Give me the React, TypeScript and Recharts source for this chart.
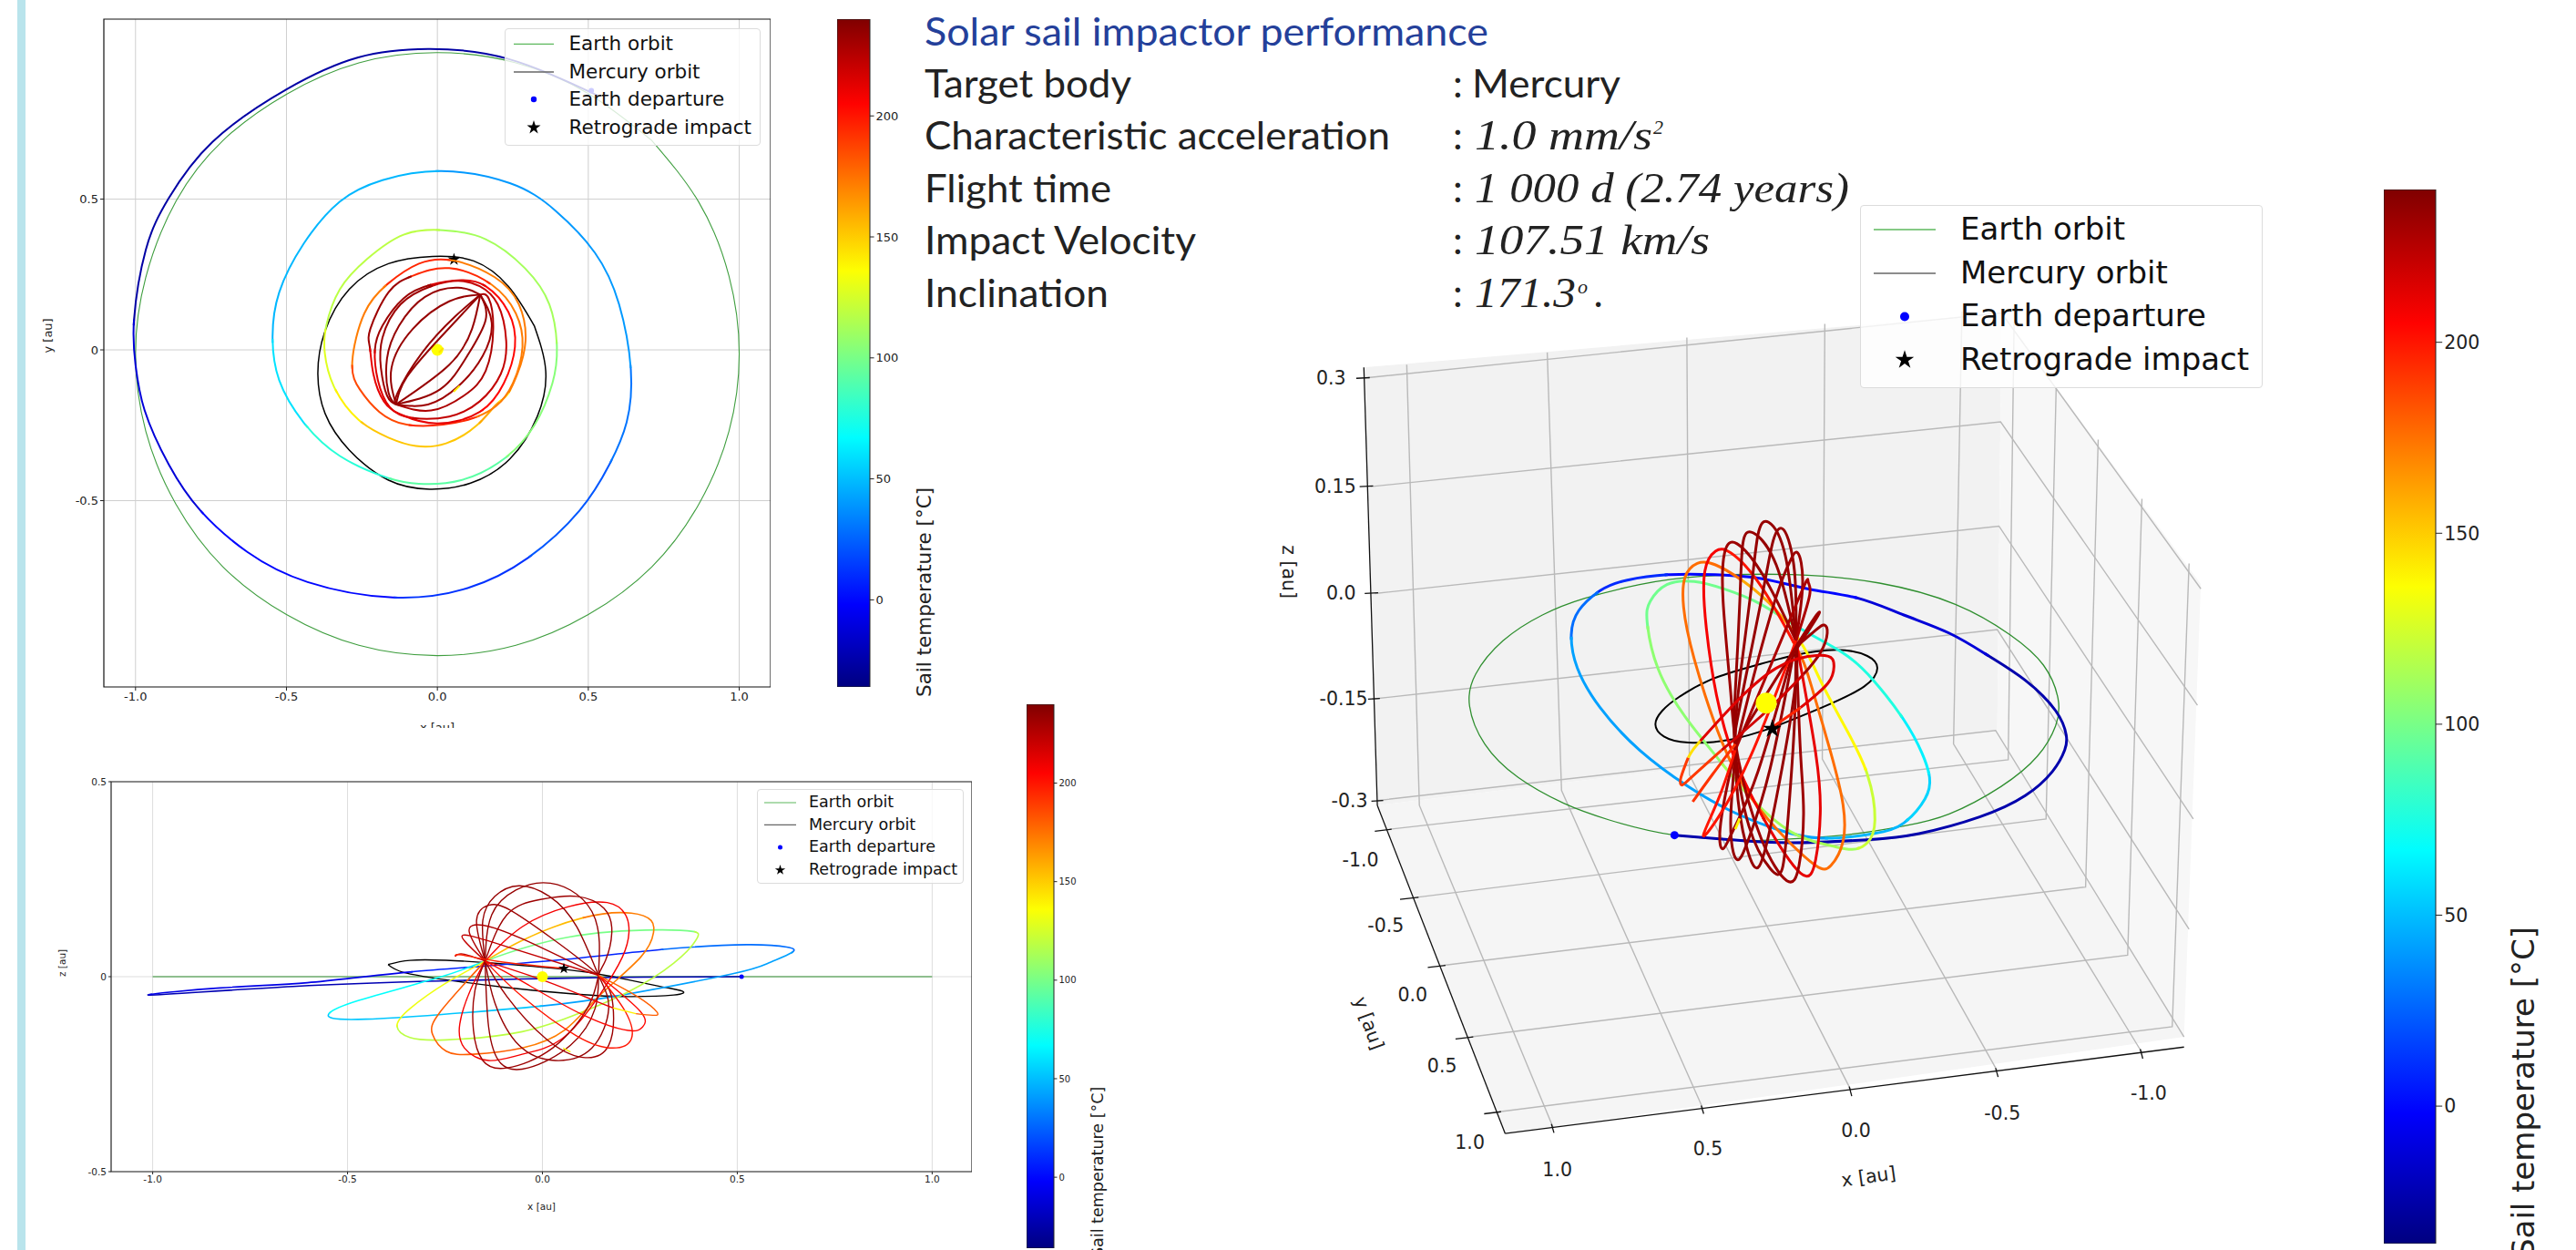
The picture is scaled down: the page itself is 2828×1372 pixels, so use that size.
import React from "react";
import { ScatterChart, Scatter, XAxis, YAxis, CartesianGrid, ReferenceArea, BarChart, Bar, Symbols } from "recharts";

type Pt = number[];
type Arc = [number, Pt[]];

const FONT = "'DejaVu Sans', sans-serif";
const xTicksAu = [-1, -0.5, 0, 0.5, 1];
const yTicksAu = [-0.5, 0, 0.5];
const barTicks = [0, 50, 100, 150, 200];
const barRange = [-36, 240];
const legendNames = ["Earth orbit", "Mercury orbit", "Earth departure", "Retrograde impact"];

/* ---------- top view, x / y in au ---------- */
const xyEarth: Pt[] = [[0.71, 0.695], [0.5, 0.85], [0.26, 0.952], [0, 0.986], [-0.26, 0.952], [-0.5, 0.848], [-0.71, 0.695], [-0.865, 0.495], [-0.966, 0.241], [-1, -0.012], [-0.966, -0.27], [-0.866, -0.512], [-0.71, -0.72], [-0.5, -0.878], [-0.26, -0.98], [0, -1.014], [0.26, -0.98], [0.5, -0.878], [0.71, -0.72], [0.866, -0.512], [0.966, -0.27], [1, -0.012], [0.966, 0.245], [0.866, 0.49], [0.71, 0.695]];
const xyMercury: Pt[] = [[0.321, 0.08], [0.359, -0.07], [0.331, -0.221], [0.24, -0.362], [0.11, -0.442], [-0.026, -0.462], [-0.162, -0.432], [-0.292, -0.332], [-0.372, -0.211], [-0.396, -0.08], [-0.373, 0.06], [-0.292, 0.201], [-0.162, 0.286], [-0.016, 0.31], [0.12, 0.295], [0.235, 0.211], [0.321, 0.08]];
const xyDeparture: Pt[] = [[0.51, 0.86]];
const xyImpact: Pt[] = [[0.055, 0.3]];
const xyOuter: Arc[] = [
  [-26, [[0.533, 0.843], [0.232, 0.966], [-0.031, 0.998], [-0.262, 0.97], [-0.5, 0.864], [-0.745, 0.69], [-0.89, 0.503], [-0.966, 0.332], [-1.005, 0.1]]],
  [-12, [[-1.005, 0.1], [-1.0, -0.05], [-0.97, -0.2], [-0.89, -0.38], [-0.785, -0.533]]],
  [0, [[-0.785, -0.533], [-0.63, -0.67], [-0.43, -0.77], [-0.148, -0.821]]],
  [12, [[-0.148, -0.821], [0.1, -0.79], [0.3, -0.69]]],
  [22, [[0.3, -0.69], [0.471, -0.533], [0.57, -0.38]]],
  [30, [[0.57, -0.38], [0.627, -0.24], [0.641, -0.066]]],
  [40, [[0.641, -0.066], [0.602, 0.151], [0.522, 0.322], [0.391, 0.462], [0.24, 0.553], [0.014, 0.593]]],
  [48, [[0.014, 0.593], [-0.182, 0.563], [-0.323, 0.492], [-0.443, 0.352], [-0.524, 0.191], [-0.546, 0.045]]],
  [60, [[-0.546, 0.045], [-0.524, -0.101], [-0.443, -0.241]]],
  [78, [[-0.443, -0.241], [-0.323, -0.352], [-0.172, -0.422]]],
  [92, [[-0.172, -0.422], [-0.061, -0.444], [0.079, -0.432], [0.22, -0.362]]],
  [104, [[0.22, -0.362], [0.321, -0.251], [0.381, -0.111], [0.396, 0.01]]],
  [112, [[0.396, 0.01], [0.371, 0.151], [0.29, 0.271], [0.16, 0.367], [0.019, 0.397]]],
  [118, [[0.019, 0.397], [-0.112, 0.382], [-0.232, 0.302], [-0.323, 0.201], [-0.368, 0.08]]],
  [128, [[-0.368, 0.08], [-0.373, -0.01], [-0.343, -0.121]]],
  [140, [[-0.343, -0.121], [-0.262, -0.231]]],
  [152, [[-0.262, -0.231], [-0.162, -0.291], [-0.071, -0.319], [0.029, -0.31], [0.13, -0.251]]],
  [160, [[0.13, -0.251], [0.195, -0.181]]],
  [140, [[0.195, -0.181], [0.23, -0.151]]],
  [172, [[0.23, -0.151], [0.265, -0.08], [0.292, 0.03], [0.27, 0.151], [0.19, 0.241], [0.054, 0.296]]],
  [195, [[0.054, 0.296], [-0.061, 0.286], [-0.162, 0.221]]],
  [172, [[-0.162, 0.221], [-0.242, 0.121], [-0.282, -0.04]]],
  [186, [[-0.282, -0.04], [-0.257, -0.131], [-0.192, -0.206], [-0.102, -0.248]]],
  [195, [[-0.102, -0.248], [0.019, -0.248], [0.12, -0.226]]],
  [172, [[0.12, -0.226], [0.195, -0.186], [0.25, -0.111], [0.282, 0.01], [0.26, 0.121], [0.18, 0.216]]],
  [195, [[0.18, 0.216], [0.039, 0.271], [-0.081, 0.246]]],
  [232, [[-0.081, 0.246], [-0.162, 0.191], [-0.222, 0.07], [-0.224, 0.01]]],
  [212, [[-0.224, 0.01], [-0.212, -0.08], [-0.177, -0.171], [-0.117, -0.216], [-0.001, -0.244], [0.14, -0.206]]],
  [205, [[0.14, -0.206], [0.22, -0.111], [0.257, 0.01], [0.235, 0.126], [0.16, 0.211]]],
  [214, [[0.16, 0.211], [0.079, 0.231], [-0.021, 0.216]]],
  [232, [[-0.021, 0.216], [-0.112, 0.171], [-0.182, 0.08], [-0.207, 0]]],
  [214, [[-0.207, 0], [-0.197, -0.101], [-0.157, -0.191], [-0.081, -0.226]]],
  [222, [[-0.081, -0.226], [0.039, -0.221], [0.14, -0.171], [0.21, -0.08], [0.228, 0.03], [0.2, 0.151], [0.14, 0.211], [0.069, 0.229], [-0.021, 0.211]]],
  [232, [[-0.021, 0.211], [-0.122, 0.151], [-0.182, 0.04], [-0.187, -0.06], [-0.167, -0.151], [-0.137, -0.181]]],
];
const xyFan: Arc[] = [
  [228, [[-0.137, -0.181], [-0.021, -0.201], [0.089, -0.151], [0.16, -0.07], [0.185, 0.07], [0.17, 0.171], [0.142, 0.183]]],
  [234, [[0.142, 0.183], [0.069, 0.206], [-0.041, 0.176], [-0.127, 0.08], [-0.167, -0.03], [-0.162, -0.141], [-0.137, -0.181]]],
  [232, [[-0.137, -0.181], [-0.031, -0.181], [0.069, -0.121], [0.15, -0.02], [0.18, 0.09], [0.142, 0.183]]],
  [234, [[0.142, 0.183], [0.039, 0.161], [-0.081, 0.07], [-0.152, -0.06], [-0.137, -0.181]]],
  [234, [[-0.137, -0.181], [0.009, -0.131], [0.099, -0.02], [0.16, 0.1], [0.142, 0.183]]],
  [234, [[0.142, 0.183], [0.059, 0.111], [-0.051, -0.01], [-0.131, -0.141], [-0.137, -0.181]]],
  [234, [[-0.137, -0.181], [0.039, -0.05], [0.115, 0.07], [0.142, 0.183]]],
  [234, [[0.142, 0.183], [0.009, 0.04], [-0.101, -0.09], [-0.137, -0.181]]],
  [140, [[0.054, -0.139], [0.074, -0.119]]],
  [145, [[0.005, -0.009], [0.02, 0.006]]],
];

/* ---------- side view, x / z in au ---------- */
const xzEarth: Pt[] = [[-1, 0], [1, 0]];
const xzMercury: Pt[] = [[-0.396, 0.031], [-0.34, 0.042], [-0.247, 0.042], [-0.13, 0.035], [0.055, 0.019], [0.181, 0], [0.298, -0.024], [0.359, -0.037], [0.337, -0.047], [0.22, -0.051], [0.088, -0.045], [-0.091, -0.028], [-0.247, -0.008], [-0.356, 0.011], [-0.396, 0.031]];
const xzDeparture: Pt[] = [[0.511, 0]];
const xzImpact: Pt[] = [[0.055, 0.021]];
const xzOuter: Arc[] = [
  [-22, [[0.511, 0], [0.26, -0.001], [0, -0.005], [-0.265, -0.011], [-0.64, -0.025], [-1.007, -0.047]]],
  [-8, [[-1.007, -0.047], [-0.828, -0.029], [-0.603, -0.0155], [-0.34, 0.012]]],
  [8, [[-0.34, 0.012], [0, 0.039], [0.299, 0.069]]],
  [28, [[0.299, 0.069], [0.524, 0.082], [0.627, 0.076], [0.64, 0.062]]],
  [42, [[0.64, 0.062], [0.58, 0.035], [0.486, 0.007], [0.205, -0.047], [0, -0.075]]],
  [52, [[0, -0.075], [-0.265, -0.0975], [-0.453, -0.109], [-0.537, -0.107], [-0.546, -0.093]]],
  [68, [[-0.546, -0.093], [-0.471, -0.061], [-0.265, -0.002], [-0.147, 0.04]]],
  [100, [[-0.147, 0.04], [0.065, 0.101], [0.298, 0.12], [0.386, 0.116]]],
  [118, [[0.386, 0.116], [0.397, 0.099], [0.337, 0.035], [0.22, -0.039], [0.104, -0.09], [-0.052, -0.141], [-0.247, -0.162], [-0.34, -0.156], [-0.373, -0.127]]],
  [132, [[-0.373, -0.127], [-0.34, -0.082], [-0.247, -0.016], [-0.147, 0.04]]],
  [155, [[-0.147, 0.04], [-0.052, 0.093], [0.104, 0.151]]],
  [172, [[0.104, 0.151], [0.228, 0.163], [0.279, 0.144], [0.285, 0.113], [0.252, 0.05], [0.144, -0.051], [0.057, -0.137], [-0.052, -0.183]]],
  [180, [[-0.052, -0.183], [-0.177, -0.199], [-0.247, -0.191], [-0.282, -0.148], [-0.262, -0.09], [-0.147, 0.04]]],
];
const xzFan: Arc[] = [
  [208, [[-0.147, 0.04], [-0.052, 0.128], [0.065, 0.179], [0.166, 0.19], [0.213, 0.159], [0.222, 0.113], [0.205, 0.05], [0.144, -0.051], [0.049, -0.16], [-0.052, -0.199], [-0.138, -0.215], [-0.2, -0.183], [-0.212, -0.121], [-0.185, -0.035], [-0.147, 0.04]]],
  [232, [[-0.147, 0.04], [-0.091, 0.159], [-0.005, 0.198], [0.088, 0.206], [0.158, 0.175], [0.178, 0.113], [0.162, 0.042], [0.144, 0.0035], [0.119, -0.074], [0.026, -0.183], [-0.091, -0.234], [-0.153, -0.215], [-0.177, -0.137], [-0.173, -0.035], [-0.147, 0.04]]],
  [234, [[-0.147, 0.04], [-0.13, 0.159], [-0.068, 0.222], [0.002, 0.241], [0.072, 0.222], [0.127, 0.167], [0.146, 0.089], [0.144, 0.0035], [0.135, -0.082], [0.072, -0.176], [-0.037, -0.234], [-0.107, -0.222], [-0.138, -0.129], [-0.147, 0.04]]],
  [234, [[-0.147, 0.04], [-0.153, 0.144], [-0.122, 0.206], [-0.06, 0.233], [0.018, 0.206], [0.088, 0.128], [0.144, 0.0035], [0.17, -0.082], [0.127, -0.183], [0.033, -0.215], [-0.06, -0.176], [-0.122, -0.067], [-0.147, 0.04]]],
  [232, [[-0.147, 0.04], [-0.169, 0.144], [-0.138, 0.183], [-0.083, 0.171], [0.026, 0.097], [0.144, 0.0035], [0.181, -0.074], [0.17, -0.176], [0.104, -0.207], [0.01, -0.16], [-0.091, -0.051], [-0.147, 0.04]]],
  [228, [[-0.147, 0.04], [-0.188, 0.116], [-0.153, 0.132], [-0.052, 0.097], [0.144, 0.0035]]],
  [200, [[0.144, 0.0035], [0.213, -0.09], [0.228, -0.16], [0.181, -0.183], [0.088, -0.152], [-0.052, -0.051], [-0.147, 0.04]]],
  [222, [[-0.147, 0.04], [-0.204, 0.097], [-0.185, 0.105], [-0.091, 0.077], [0.144, 0.0035]]],
  [204, [[0.144, 0.0035], [0.252, -0.09], [0.257, -0.129], [0.22, -0.138], [0.104, -0.098], [-0.052, -0.012], [-0.147, 0.04]]],
  [212, [[-0.147, 0.04], [0.01, -0.012], [0.13, -0.06], [0.181, -0.08]]],
  [140, [[0.181, -0.08], [0.24, -0.095]]],
  [180, [[0.24, -0.095], [0.283, -0.099], [0.294, -0.091], [0.244, -0.051], [0.144, 0.0035]]],
  [225, [[-0.147, 0.04], [-0.204, 0.058], [-0.224, 0.052]]],
  [196, [[-0.224, 0.052], [-0.208, 0.056], [-0.114, 0.039], [0.055, 0.021]]],
  [140, [[0.053, -0.183], [0.072, -0.193]]],
];

/* ---------- perspective view, projected picture coordinates ---------- */
const paneBack: Pt[] = [[127, 272], [885, 192], [880, 805], [143, 915], [127, 272]];
const paneRight: Pt[] = [[885, 192], [1122, 590], [1102, 1255], [880, 805], [885, 192]];
const paneFloor: Pt[] = [[143, 915], [880, 805], [1102, 1255], [295, 1397], [143, 915]];
const gridLines3d: Pt[][] = [
  [[132, 287], [885, 192], [1122, 597]],
  [[135, 447], [884, 352], [1118, 768]],
  [[140, 604], [882, 505], [1113, 935]],
  [[137, 759], [880, 657], [1108, 1097]],
  [[143, 908], [878, 805], [1102, 1255]],
  [[178, 268], [193, 915], [352, 1388]],
  [[345, 250], [362, 893], [530, 1360]],
  [[511, 228], [514, 870], [706, 1333]],
  [[675, 208], [672, 847], [880, 1305]],
  [[838, 190], [828, 825], [1052, 1278]],
  [[158, 950], [893, 848], [900, 205]],
  [[190, 1050], [938, 935], [950, 303]],
  [[222, 1150], [985, 1035], [1000, 378]],
  [[255, 1255], [1035, 1135], [1052, 465]],
  [[288, 1365], [1088, 1240], [1108, 560]],
];
const axisLines3d: Pt[][] = [
  [[127, 272], [143, 915]],
  [[143, 915], [295, 1397]],
  [[295, 1397], [1102, 1270]],
  [[118, 288], [134, 287]], [[122, 447], [138, 446]], [[128, 604], [144, 603]], [[132, 759], [146, 758]], [[136, 909], [150, 908]],
  [[140, 953], [160, 950]], [[170, 1053], [192, 1050]], [[203, 1153], [224, 1150]], [[236, 1258], [257, 1255]], [[270, 1368], [290, 1365]],
  [[350, 1383], [353, 1396]], [[528, 1356], [531, 1368]], [[704, 1328], [707, 1342]], [[878, 1301], [881, 1314]], [[1050, 1273], [1053, 1287]],
];
const tickText3d = [
  { x: 88, y: 288, label: "0.3" }, { x: 93, y: 447, label: "0.15" }, { x: 100, y: 604, label: "0.0" }, { x: 103, y: 759, label: "-0.15" }, { x: 110, y: 909, label: "-0.3" },
  { x: 123, y: 996, label: "-1.0" }, { x: 153, y: 1092, label: "-0.5" }, { x: 185, y: 1194, label: "0.0" }, { x: 220, y: 1298, label: "0.5" }, { x: 253, y: 1410, label: "1.0" },
  { x: 357, y: 1450, label: "1.0" }, { x: 536, y: 1420, label: "0.5" }, { x: 712, y: 1393, label: "0.0" }, { x: 886, y: 1367, label: "-0.5" }, { x: 1060, y: 1338, label: "-1.0" },
];
const axisText3d = [
  { x: 38, y: 572, label: "z [au]", angle: 90 },
  { x: 133, y: 1235, label: "y [au]", angle: 70 },
  { x: 727, y: 1460, label: "x [au]", angle: -8 },
];
const nearEarth: Pt[] = [[450, 1088], [175, 1070], [-40, 1020], [-190, 965], [-340, 880], [-450, 770], [-500, 645], [-480, 540], [-390, 430], [-260, 345], [-120, 290], [60, 245], [260, 218], [560, 212], [850, 240], [1100, 310], [1280, 410], [1390, 510], [1438, 620], [1430, 710], [1370, 810], [1250, 910], [1080, 1000], [930, 1040], [730, 1070], [450, 1088]];
const nearDeparture: Pt[] = [[175, 1070]];
const nearMercury: Pt[] = [[500, 715], [360, 755], [220, 765], [140, 745], [112, 705], [135, 660], [190, 615], [290, 560], [410, 520], [560, 480], [710, 460], [810, 480], [843, 520], [800, 580], [660, 650], [500, 715]];
const nearSun: Pt[] = [[477, 635]];
const nearImpact: Pt[] = [[497, 720]];
const nearLoops: Arc[] = [
  [-24, [[175, 1070], [360, 1085], [560, 1095], [810, 1085], [980, 1065], [1180, 1010], [1330, 940], [1420, 860], [1460, 790], [1465, 740], [1430, 660], [1330, 560], [1210, 480]]],
  [-12, [[1210, 480], [1080, 405], [930, 345], [780, 290]]],
  [0, [[780, 290], [620, 260], [460, 225], [310, 212], [160, 212]]],
  [10, [[160, 212], [20, 230], [-70, 265]]],
  [28, [[-70, 265], [-140, 330], [-165, 410]]],
  [42, [[-165, 410], [-145, 520], [-70, 650], [60, 790], [220, 910], [360, 990], [510, 1050], [660, 1080]]],
  [48, [[660, 1080], [830, 1065], [930, 1030]]],
  [56, [[930, 1030], [1000, 950], [1015, 880]]],
  [64, [[1015, 880], [990, 800], [930, 690]]],
  [76, [[930, 690], [830, 560], [730, 470], [590, 390]]],
  [98, [[590, 390], [460, 310], [340, 260], [240, 235], [150, 245], [95, 300], [85, 370]]],
  [106, [[85, 370], [120, 520], [210, 680], [320, 820]]],
  [112, [[320, 820], [420, 940], [560, 1060], [690, 1105], [760, 1117]]],
  [122, [[760, 1117], [810, 1095], [835, 1020], [810, 870]]],
  [138, [[810, 870], [740, 720], [660, 570], [600, 450]]],
  [160, [[600, 450], [510, 330], [410, 240]]],
  [176, [[410, 240], [310, 180], [250, 175], [210, 220], [205, 320], [240, 490], [330, 760], [430, 950], [540, 1080], [640, 1170], [690, 1170], [730, 1090], [730, 970], [690, 800], [620, 560], [575, 450]]],
  [200, [[575, 450], [460, 250], [360, 140]]],
  [208, [[360, 140], [310, 135], [275, 200], [280, 390], [340, 720], [460, 1000]]],
  [212, [[460, 1000], [590, 1195], [640, 1150], [655, 1000], [640, 800], [575, 430]]],
];
const nearFan: Arc[] = [
  [232, [[575, 430], [470, 220], [380, 110], [340, 140], [335, 300], [360, 600], [385, 820], [460, 1080], [545, 1220], [585, 1170], [600, 1000], [590, 800], [575, 430]]],
  [234, [[575, 430], [510, 180], [435, 75], [400, 110], [390, 300], [375, 600], [375, 790], [420, 1040], [490, 1180], [530, 1180], [550, 1000], [570, 700], [575, 430]]],
  [234, [[575, 430], [540, 150], [485, 40], [450, 80], [425, 280], [385, 600], [375, 790], [390, 1000], [435, 1170], [470, 1130], [510, 950], [570, 600], [575, 430]]],
  [234, [[575, 430], [570, 200], [535, 65], [500, 100], [460, 300], [380, 700], [375, 790], [360, 1020], [380, 1150], [420, 1080], [490, 850], [575, 430]]],
  [232, [[575, 430], [597, 240], [580, 140], [550, 180], [490, 350], [375, 790], [325, 1050], [335, 1115], [370, 1050], [450, 860], [575, 430]]],
  [228, [[575, 430], [620, 280], [615, 235], [580, 300], [375, 790]]],
  [200, [[375, 790], [320, 950], [270, 1070], [320, 1010], [430, 800], [575, 430]]],
  [232, [[575, 460], [640, 360], [652, 335], [600, 410], [375, 770]]],
  [192, [[375, 770], [300, 870], [235, 960]]],
  [232, [[575, 450], [640, 395], [668, 378], [678, 405], [655, 470], [600, 540]]],
  [218, [[600, 540], [480, 660], [330, 790]]],
  [190, [[330, 790], [230, 880], [200, 905], [195, 885], [220, 815]]],
  [145, [[220, 815], [235, 790], [260, 760]]],
  [214, [[260, 760], [360, 650], [510, 520], [650, 478], [695, 490], [700, 515], [680, 570], [590, 650]]],
  [196, [[590, 650], [497, 715]]],
  [140, [[390, 1015], [375, 1050]]],
];

/* ---------- text ---------- */
const infoLabels = ["Target body", "Characteristic acceleration", "Flight time", "Impact Velocity", "Inclination"];
const infoLabelWidths = [227, 511, 205, 298, 202];
const infoValues = ["1.0 mm/s", "1 000 d (2.74 years)", "107.51 km/s", "171.3"];
const infoValueWidths = [195, 411, 258, 111];

/* jet colour map normalised on the colour bar's range */
const jet = (t: number) => {
  const v = (t - barRange[0]) / (barRange[1] - barRange[0]);
  const c = (a: number) => Math.round(255 * Math.max(0, Math.min(1, 1.5 - Math.abs(4 * v - a))));
  return `rgb(${c(3)},${c(2)},${c(1)})`;
};
const gradientTemps = [-36, -20, -2, 15, 32, 50, 67, 84, 102, 119, 136, 154, 171, 188, 205, 222, 240];

const toXY = (p: Pt[]) => p.map(([x, y]) => ({ x, y }));

const trace = (k: string, pts: Pt[], stroke: string, w: number, type = "natural", ax = "0", extra: any = {}) => (
  <Scatter
    key={k}
    data={toXY(pts)}
    xAxisId={ax}
    yAxisId={ax}
    isAnimationActive={false}
    legendType="none"
    line={{ stroke, strokeWidth: w, ...extra }}
    lineJointType={type as any}
    shape={() => <g />}
  />
);
const arcs = (k: string, list: Arc[], w: number, ax = "0") => list.map((a, i) => trace(`${k}${i}`, a[1], jet(a[0]), w, "natural", ax));

/* one spline through a whole run of arcs, revealed piece by piece in each arc's colour */
const joined = (k: string, list: Arc[], w: number, ax = "0") => {
  const pts: Pt[] = [];
  const ends: number[] = [];
  let len = 0;
  list.forEach((a) => {
    a[1].forEach((p) => {
      const q = pts[pts.length - 1];
      if (q && q[0] === p[0] && q[1] === p[1]) return;
      if (q) len += Math.hypot(p[0] - q[0], p[1] - q[1]);
      pts.push(p);
    });
    ends.push(len);
  });
  return list.map((a, i) => {
    const s = ((i ? ends[i - 1] : 0) / len) * 1000;
    const e = (ends[i] / len) * 1000;
    return trace(`${k}${i}`, pts, jet(a[0]), w, "natural", ax, {
      pathLength: 1000,
      strokeDasharray: `0 ${Math.max(0, s - 0.4).toFixed(2)} ${(e - s + 0.8).toFixed(2)} 2000`,
    });
  });
};

const dot = (k: string, pts: Pt[], fill: string, r: number, ax = "0") => (
  <Scatter key={k} data={toXY(pts)} xAxisId={ax} yAxisId={ax} isAnimationActive={false} legendType="none"
    shape={(p: any) => <circle cx={p.cx} cy={p.cy} r={r} fill={fill} />} />
);
const star = (k: string, pts: Pt[], size: number, ax = "0") => (
  <Scatter key={k} data={toXY(pts)} xAxisId={ax} yAxisId={ax} isAnimationActive={false} legendType="none"
    shape={(p: any) => <Symbols cx={p.cx} cy={p.cy} type="star" size={size} fill="#000" />} />
);

function LegendBox({ left, top, width, height, rows, hx, hw, tx, font, lw, r, s }: any) {
  return (
    <div style={{ position: "absolute", left, top, width, height, background: "rgba(255,255,255,0.8)", border: "1.5px solid #dcdcdc", borderRadius: 4, boxSizing: "border-box" }}>
      {legendNames.map((n, i) => (
        <div key={n} style={{ position: "absolute", left: tx - left, top: rows[i] - top - font * 0.62, font: `${font}px ${FONT}`, lineHeight: `${font * 1.2}px`, whiteSpace: "nowrap", color: "#111" }}>{n}</div>
      ))}
      <svg style={{ position: "absolute", left: 0, top: 0 }} width={width} height={height}>
        <line x1={hx - left} x2={hx + hw - left} y1={rows[0] - top} y2={rows[0] - top} stroke="#5cb85c" strokeWidth={lw} />
        <line x1={hx - left} x2={hx + hw - left} y1={rows[1] - top} y2={rows[1] - top} stroke="#666" strokeWidth={lw} />
        <circle cx={hx + hw / 2 - left} cy={rows[2] - top} r={r} fill="#0000ff" />
        <g transform={`translate(${hx + hw / 2 - left},${rows[3] - top})`}>
          <Symbols type="star" size={s} fill="#000" cx={0} cy={0} />
        </g>
      </svg>
    </div>
  );
}

function ColorBar({ id, left, top, w, h, axisW, font }: any) {
  return (
    <div style={{ position: "absolute", left, top }}>
      <BarChart width={w + axisW} height={h} data={[{ n: "T", r: barRange }]} margin={{ top: 0, right: 0, bottom: 0, left: 0 }} barCategoryGap={0}>
        <defs>
          <linearGradient id={id} x1="0" y1="1" x2="0" y2="0">
            {gradientTemps.map((t) => (
              <stop key={t} offset={(t - barRange[0]) / (barRange[1] - barRange[0])} stopColor={jet(t)} />
            ))}
          </linearGradient>
        </defs>
        <XAxis dataKey="n" hide />
        <YAxis orientation="right" width={axisW} type="number" domain={barRange} ticks={barTicks} interval={0} axisLine={false}
          tickLine={{ stroke: "#222" }} tickSize={font * 0.35} tick={{ fontSize: font, fontFamily: FONT, fill: "#222" }} />
        <Bar dataKey="r" fill={`url(#${id})`} stroke="#222" strokeWidth={1} isAnimationActive={false} />
      </BarChart>
    </div>
  );
}

const tickStyle = (f: number) => ({ fontSize: f, fontFamily: FONT, fill: "#222" });
const xFmt = (v: number) => v.toFixed(1);

export default function App() {
  return (
    <div style={{ position: "absolute", left: 0, top: 0, width: 2828, height: 1372, overflow: "hidden", background: "#fff", fontFamily: FONT }}>
      <div style={{ position: "absolute", left: 19, top: 0, width: 9, height: 1372, background: "#b9e4ec" }} />

      {/* top view */}
      <div style={{ position: "absolute", left: 30, top: 0 }}>
        <ScatterChart width={816} height={799} margin={{ top: 21, right: 0, bottom: 0, left: 0 }}>
          <CartesianGrid stroke="#cfcfcf" verticalValues={xTicksAu} horizontalValues={yTicksAu} />
          <XAxis dataKey="x" type="number" domain={[-1.105, 1.104]} ticks={xTicksAu} interval={0} tickFormatter={xFmt} height={45} allowDataOverflow
            tick={tickStyle(13)} tickSize={4} tickLine={{ stroke: "#222" }} axisLine={false}
            label={{ value: "x [au]", position: "insideBottom", offset: -4, style: { fontSize: 13, fontFamily: FONT, fill: "#222" } }} />
          <YAxis dataKey="y" type="number" domain={[-1.118, 1.097]} ticks={yTicksAu} interval={0} width={84} allowDataOverflow
            tick={tickStyle(13)} tickSize={4} tickLine={{ stroke: "#222" }} axisLine={false}
            label={{ value: "y [au]", angle: -90, position: "insideLeft", offset: 22, style: { fontSize: 13, fontFamily: FONT, fill: "#222" } }} />
          {trace("e", xyEarth, "#3f9e3f", 1.1)}
          {trace("m", xyMercury, "#000", 1.5)}
          {star("imp", xyImpact, 60)}
          {joined("o", xyOuter, 2)}
          {dot("sun", [[0, 0]], "#ffff00", 6.5)}
          {arcs("f", xyFan, 2)}
          {dot("dep", xyDeparture, "#0000ff", 3)}
          <ReferenceArea x1={-1.105} x2={1.104} y1={-1.118} y2={1.097} fill="none" stroke="#111" strokeWidth={1.2} ifOverflow="visible" />
        </ScatterChart>
      </div>
      <LegendBox left={554} top={31} width={281} height={129} rows={[47.4, 78, 108, 139]} hx={563} hw={44} tx={623.5} font={21.5} lw={1.3} r={3.2} s={70} />
      <ColorBar id="jetA" left={919} top={21} w={36} h={733} axisW={50} font={13} />

      {/* side view */}
      <div style={{ position: "absolute", left: 60, top: 850 }}>
        <ScatterChart width={1007} height={496} margin={{ top: 8, right: 0, bottom: 0, left: 0 }}>
          <CartesianGrid stroke="#dddddd" verticalValues={xTicksAu} horizontalValues={yTicksAu} />
          <XAxis dataKey="x" type="number" domain={[-1.1066, 1.102]} ticks={xTicksAu} interval={0} tickFormatter={xFmt} height={60} allowDataOverflow
            tick={tickStyle(10.5)} tickSize={3} tickLine={{ stroke: "#222" }} axisLine={false}
            label={{ value: "x [au]", position: "insideBottom", offset: 18, style: { fontSize: 10.5, fontFamily: FONT, fill: "#222" } }} />
          <YAxis dataKey="y" type="number" domain={[-0.5, 0.5]} ticks={yTicksAu} interval={0} width={62} allowDataOverflow
            tick={tickStyle(10.5)} tickSize={3} tickLine={{ stroke: "#222" }} axisLine={false}
            label={{ value: "z [au]", angle: -90, position: "insideLeft", offset: 8, style: { fontSize: 10.5, fontFamily: FONT, fill: "#222" } }} />
          {trace("e", xzEarth, "#2f8f2f", 1, "linear")}
          {trace("m", xzMercury, "#000", 1.3)}
          {joined("o", xzOuter, 1.6)}
          {arcs("f", xzFan, 1.4)}
          {dot("sun", [[0, 0]], "#ffff00", 6)}
          {dot("dep", xzDeparture, "#0000ff", 2.5)}
          {star("imp", xzImpact, 45)}
          <ReferenceArea x1={-1.1066} x2={1.102} y1={-0.5} y2={0.5} fill="none" stroke="#222" strokeWidth={1.2} ifOverflow="visible" />
        </ScatterChart>
      </div>
      <LegendBox left={831} top={866} width={227} height={104} rows={[880, 904.4, 929, 954]} hx={838} hw={35} tx={887} font={17.5} lw={1.2} r={2.5} s={40} />
      <ColorBar id="jetB" left={1127} top={773} w={30} h={597} axisW={40} font={10} />

      {/* perspective view */}
      <div style={{ position: "absolute", left: 1380, top: 200 }}>
        <ScatterChart width={1448} height={1172} margin={{ top: 0, right: 0, bottom: 0, left: 0 }}>
          <XAxis xAxisId="w" dataKey="x" type="number" domain={[0, 1568]} hide allowDataOverflow />
          <YAxis yAxisId="w" dataKey="y" type="number" domain={[0, 1568]} reversed hide allowDataOverflow />
          <XAxis xAxisId="n" dataKey="x" type="number" domain={[-1200, 3144]} hide allowDataOverflow />
          <YAxis yAxisId="n" dataKey="y" type="number" domain={[-1080, 2436]} reversed hide allowDataOverflow />
          {trace("pb", paneBack, "none", 0, "linear", "w", { fill: "#f2f2f2" })}
          {trace("pr", paneRight, "none", 0, "linear", "w", { fill: "#f7f7f7" })}
          {trace("pf", paneFloor, "none", 0, "linear", "w", { fill: "#f5f5f5" })}
          {gridLines3d.map((g, i) => trace(`g${i}`, g, "#b9b9b9", 1.4, "linear", "w"))}
          {axisLines3d.map((g, i) => trace(`a${i}`, g, "#111", 1.3, "linear", "w"))}
          <Scatter data={tickText3d} xAxisId="w" yAxisId="w" isAnimationActive={false} legendType="none"
            shape={(p: any) => <text x={p.cx} y={p.cy} textAnchor="middle" dominantBaseline="central" fontSize={20.5} fontFamily={FONT} fill="#222">{p.payload.label}</text>} />
          <Scatter data={axisText3d} xAxisId="w" yAxisId="w" isAnimationActive={false} legendType="none"
            shape={(p: any) => <text transform={`translate(${p.cx},${p.cy}) rotate(${p.payload.angle})`} textAnchor="middle" dominantBaseline="central" fontSize={20.5} fontFamily={FONT} fill="#222">{p.payload.label}</text>} />
          {trace("e", nearEarth, "#2f8f2f", 1.3, "natural", "n")}
          {trace("m", nearMercury, "#000", 2, "natural", "n")}
          {joined("l", nearLoops, 3, "n")}
          {arcs("f", nearFan, 3, "n")}
          {dot("sun", nearSun, "#ffff00", 11.5, "n")}
          {dot("dep", nearDeparture, "#0000ff", 4.5, "n")}
          {star("imp", nearImpact, 130, "n")}
        </ScatterChart>
      </div>
      <LegendBox left={2042} top={225} width={442} height={201} rows={[251, 299, 346.5, 394]} hx={2056} hw={68} tx={2151} font={34} lw={1.6} r={5} s={130} />
      <ColorBar id="jetC" left={2617} top={207.5} w={57} h={1157} axisW={70} font={20.5} />

      {/* text block and colour bar titles */}
      <svg width={2828} height={1372} style={{ position: "absolute", left: 0, top: 0, pointerEvents: "none" }}>
        <text x={1015} y={50} fontFamily="Lato" fontSize={43} fill="#24409a" textLength={619} lengthAdjust="spacingAndGlyphs">Solar sail impactor performance</text>
        {infoLabels.map((t, i) => (
          <text key={t} x={1015} y={106.7 + i * 57.5} fontFamily="Lato" fontSize={43} fill="#222" textLength={infoLabelWidths[i]} lengthAdjust="spacingAndGlyphs">{t}</text>
        ))}
        {infoLabels.map((t, i) => (
          <text key={t} x={1595} y={106.7 + i * 57.5} fontFamily="Lato" fontSize={43} fill="#222">:</text>
        ))}
        <text x={1616} y={106.7} fontFamily="Lato" fontSize={43} fill="#222" textLength={163} lengthAdjust="spacingAndGlyphs">Mercury</text>
        {infoValues.map((t, i) => (
          <text key={t} x={1619} y={164 + i * 57.5} fontFamily="'Liberation Serif'" fontStyle="italic" fontSize={46} fill="#222" textLength={infoValueWidths[i]} lengthAdjust="spacingAndGlyphs">{t}</text>
        ))}
        <text x={1815} y={147} fontFamily="'Liberation Serif'" fontStyle="italic" fontSize={22} fill="#222">2</text>
        <text x={1732} y={322} fontFamily="'Liberation Serif'" fontStyle="italic" fontSize={22} fill="#222">o</text>
        <text x={1750} y={336.7} fontFamily="'Liberation Serif'" fontStyle="italic" fontSize={46} fill="#222">.</text>

        <text transform="translate(1022,765) rotate(-90)" fontFamily={FONT} fontSize={21.5} fill="#222">Sail temperature [°C]</text>
        <text transform="translate(1211,1380) rotate(-90)" fontFamily={FONT} fontSize={17.5} fill="#222">Sail temperature [°C]</text>
        <text transform="translate(2782,1381) rotate(-90)" fontFamily={FONT} fontSize={34} fill="#222">Sail temperature [°C]</text>
      </svg>
    </div>
  );
}
